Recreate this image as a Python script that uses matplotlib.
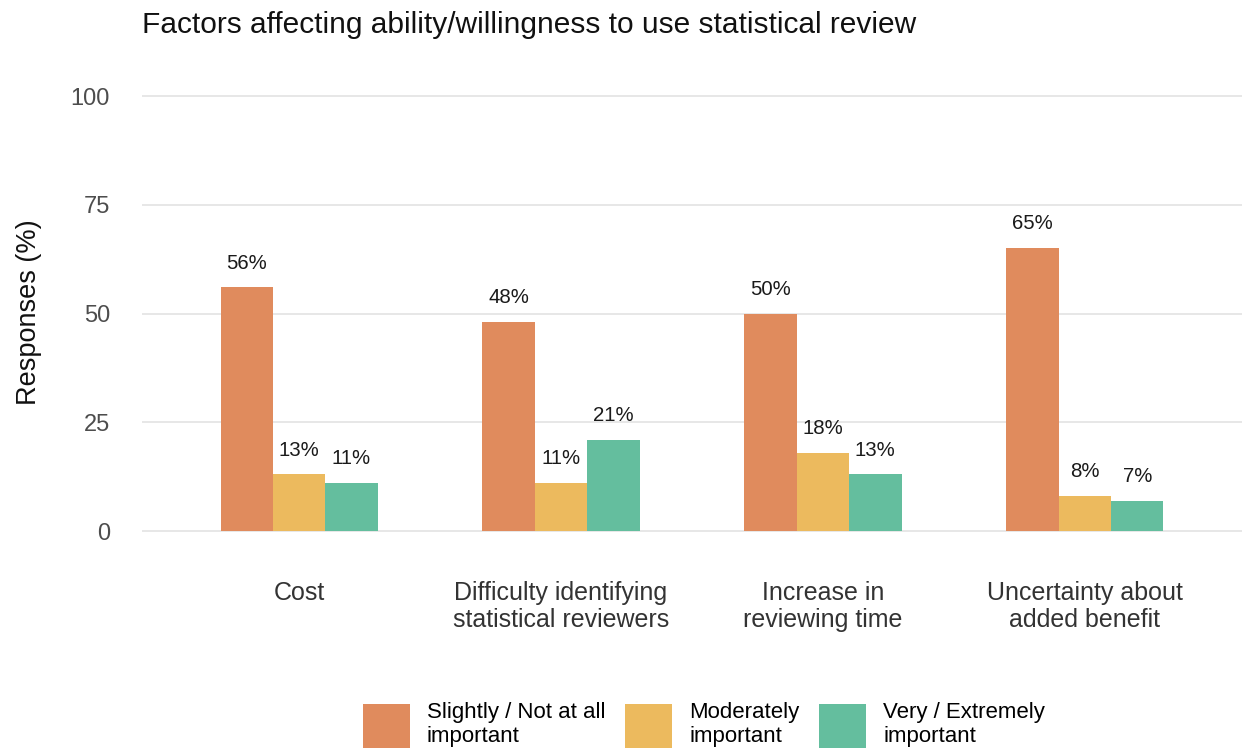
import matplotlib
matplotlib.use("Agg")
import matplotlib.pyplot as plt
import numpy as np

plt.rcParams['font.family'] = ['Liberation Sans', 'DejaVu Sans']

categories = ["Cost", "Difficulty identifying\nstatistical reviewers",
              "Increase in\nreviewing time", "Uncertainty about\nadded benefit"]
series_names = ["Slightly / Not at all\nimportant", "Moderately\nimportant",
                "Very / Extremely\nimportant"]
slightly = [56, 48, 50, 65]
moderately = [13, 11, 18, 8]
very = [11, 21, 13, 7]
yticks = [0, 25, 50, 75, 100]

colors = ["#E08B5D", "#ECBA5E", "#64BE9E"]
values = [slightly, moderately, very]

fig = plt.figure(figsize=(12.43, 7.48), dpi=100)
ax = fig.add_axes([0.1142, 0.261, 0.885, 0.6397])

x = np.arange(1, len(categories) + 1)
w = 0.2
for i, (vals, c, name) in enumerate(zip(values, colors, series_names)):
    pos = x + (i - 1) * w
    ax.bar(pos, vals, width=w, color=c, label=name, zorder=2, linewidth=0)
    for p, v in zip(pos, vals):
        ax.text(p, v + 3.4, f"{v}%", ha="center", va="bottom", fontsize=14.7,
                color="#1a1a1a", zorder=3)

ax.set_xlim(0.4, 4.6)
ax.set_ylim(-5, 105)
ax.set_yticks(yticks)
ax.set_yticklabels([str(t) for t in yticks], fontsize=17, color="#4d4d4d")
ax.set_xticks(x)
ax.set_xticklabels(categories, fontsize=18, color="#333333", linespacing=1.2)
ax.tick_params(axis="both", length=0)
ax.tick_params(axis="x", pad=20)
ax.tick_params(axis="y", pad=23)
ax.grid(axis="y", color="#e3e3e3", linewidth=1.2, zorder=0)
ax.grid(axis="x", visible=False)
for s in ax.spines.values():
    s.set_visible(False)

fig.text(0.023, 0.582, "Responses (%)", rotation=90, fontsize=19.5,
         ha="center", va="center", color="#111111")
fig.text(0.1142, 0.956, "Factors affecting ability/willingness to use statistical review",
         fontsize=21.5, ha="left", va="baseline", color="#111111")

leg = fig.legend(*ax.get_legend_handles_labels(), loc="upper center",
                 bbox_to_anchor=(0.5665, 0.061), ncol=3, frameon=False,
                 fontsize=16, handlelength=2.1, handleheight=2.7, handletextpad=0.77,
                 columnspacing=0.9, borderpad=0, borderaxespad=0)
for t in leg.get_texts():
    t.set_linespacing(1.15)

fig.savefig("out.png", dpi=100, facecolor="white")
